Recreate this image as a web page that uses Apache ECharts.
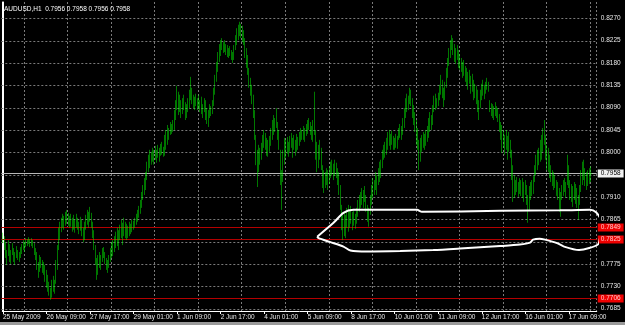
<!DOCTYPE html>
<html><head><meta charset="utf-8">
<script src="https://cdn.jsdelivr.net/npm/echarts@6/dist/echarts.min.js"></script>
<style>html,body{margin:0;padding:0;background:#000;}#c{width:625px;height:325px;}</style>
</head><body><div id="c"></div>
<script>
const symbolTitle = 'AUDUSD,H1  0.7956 0.7958 0.7956 0.7958';
const xTickLabels = ['25 May 2009','26 May 09:00','27 May 17:00','29 May 01:00','1 Jun 09:00','2 Jun 17:00','4 Jun 01:00','5 Jun 09:00','8 Jun 17:00','10 Jun 01:00','11 Jun 09:00','12 Jun 17:00','16 Jun 01:00','17 Jun 09:00'];
const yTickValues = [0.8270,0.8225,0.8180,0.8135,0.8090,0.8045,0.8000,0.7955,0.7910,0.7865,0.7820,0.7775,0.7730,0.7685];
const yTickShown = [0.8270,0.8225,0.8180,0.8135,0.8090,0.8045,0.8000,0.7910,0.7865,0.7775,0.7730,0.7685];
const redLevels = [0.7849, 0.7825, 0.7706];
const bidLevel = 0.7958;
const highs = [
.7838,.7831,.7819,.7803,.7823,.7815,.7803,.7817,.7807,.7799,.7811,
.7803,.7799,.7809,.7815,.7823,.7819,.7827,.7825,.7829,.7825,
.7827,.7823,.7817,.7807,.7799,.7779,.7793,.7789,.7783,.7779,
.7773,.7763,.7753,.7739,.7727,.7743,.7751,.7743,.7783,.7813,
.7848,.7860,.7868,.7876,.7872,.7880,.7884,.7878,.7872,.7876,
.7868,.7874,.7864,.7876,.7868,.7860,.7870,.7864,.7848,.7860,
.7874,.7884,.7880,.7890,.7878,.7860,.7843,.7813,.7787,.7793,
.7799,.7793,.7807,.7809,.7799,.7787,.7783,.7793,.7807,.7819,
.7823,.7831,.7840,.7848,.7843,.7854,.7864,.7858,.7868,.7860,
.7856,.7852,.7860,.7856,.7864,.7862,.7868,.7876,.7884,.7892,
.7904,.7920,.7934,.7948,.7960,.7981,.7995,.8005,.8001,.8009,
.8005,.8013,.8005,.8015,.8009,.8017,.8021,.8011,.8035,.8045,
.8055,.8049,.8061,.8057,.8065,.8085,.8105,.8134,.8122,.8116,
.8105,.8109,.8116,.8101,.8097,.8109,.8126,.8152,.8130,.8116,
.8112,.8118,.8109,.8116,.8105,.8112,.8097,.8109,.8105,.8089,
.8085,.8097,.8093,.8105,.8130,.8156,.8182,.8202,.8218,.8226,
.8230,.8222,.8226,.8218,.8216,.8210,.8214,.8206,.8202,.8216,
.8236,.8250,.8257,.8263,.8259,.8255,.8246,.8230,.8210,.8196,
.8170,.8150,.8136,.8116,.8085,.8035,.8005,.8015,.8009,.8019,
.8035,.8045,.8039,.8029,.8025,.8033,.8049,.8065,.8075,.8069,
.8089,.8061,.8045,.8005,.7964,.8005,.8029,.8025,.8031,.8021,
.8033,.8039,.8029,.8035,.8025,.8037,.8031,.8041,.8049,.8045,
.8053,.8049,.8057,.8065,.8069,.8061,.8053,.8065,.8122,.8045,
.8021,.8015,.8025,.8009,.7974,.7964,.7960,.7968,.7964,.7972,
.7981,.7985,.7977,.7985,.7979,.7968,.7960,.7934,.7894,.7874,
.7880,.7874,.7888,.7894,.7884,.7892,.7880,.7884,.7876,.7888,
.7904,.7914,.7920,.7928,.7924,.7932,.7914,.7894,.7888,.7914,
.7934,.7948,.7944,.7960,.7954,.7968,.7981,.7985,.8005,.8015,
.8021,.8029,.8041,.8045,.8037,.8043,.8033,.8029,.8037,.8033,
.8049,.8057,.8053,.8069,.8089,.8109,.8118,.8114,.8130,.8126,
.8109,.8095,.8081,.8065,.8049,.8025,.8029,.8035,.8041,.8037,
.8045,.8053,.8069,.8081,.8075,.8095,.8114,.8118,.8109,.8120,
.8136,.8156,.8146,.8130,.8142,.8170,.8190,.8210,.8226,.8236,
.8230,.8218,.8210,.8216,.8206,.8198,.8190,.8182,.8186,.8174,
.8170,.8162,.8166,.8154,.8158,.8146,.8138,.8134,.8126,.8105,
.8126,.8138,.8146,.8136,.8142,.8150,.8142,.8105,.8099,.8097,
.8093,.8101,.8093,.8089,.8077,.8061,.8055,.8045,.8035,.8045,
.8033,.8041,.8025,.8005,.7974,.7954,.7944,.7950,.7940,.7948,
.7944,.7948,.7940,.7944,.7934,.7914,.7932,.7940,.7944,.7952,
.7974,.7995,.8005,.8009,.8025,.8035,.8049,.8065,.8035,.8015,
.8009,.7995,.7974,.7964,.7960,.7954,.7944,.7940,.7928,.7920,
.7934,.7944,.7948,.7940,.7995,.7974,.7944,.7936,.7932,.7940,
.7936,.7928,.7914,.7934,.7964,.7981,.7985,.7968,.7960,.7964,
.7968,.7972,.7958];
const lows = [
.7817,.7803,.7787,.7773,.7791,.7779,.7775,.7793,.7779,.7773,.7787,
.7783,.7779,.7787,.7795,.7803,.7799,.7809,.7811,.7815,.7809,
.7811,.7807,.7793,.7783,.7763,.7747,.7759,.7767,.7757,.7753,
.7739,.7727,.7719,.7711,.7703,.7707,.7719,.7715,.7735,.7763,
.7803,.7823,.7839,.7848,.7844,.7852,.7856,.7852,.7848,.7850,
.7840,.7844,.7838,.7848,.7844,.7835,.7842,.7831,.7819,.7823,
.7844,.7854,.7848,.7860,.7848,.7827,.7803,.7773,.7743,.7753,
.7767,.7763,.7779,.7787,.7775,.7763,.7757,.7767,.7779,.7787,
.7791,.7799,.7807,.7811,.7803,.7823,.7827,.7813,.7831,.7827,
.7823,.7827,.7831,.7835,.7839,.7844,.7848,.7854,.7860,.7868,
.7876,.7888,.7904,.7914,.7924,.7944,.7960,.7968,.7975,.7981,
.7975,.7985,.7979,.7989,.7981,.7993,.7995,.7991,.7993,.8005,
.8015,.8025,.8035,.8037,.8041,.8045,.8065,.8085,.8075,.8081,
.8069,.8077,.8085,.8065,.8069,.8081,.8089,.8105,.8097,.8089,
.8085,.8093,.8085,.8089,.8081,.8077,.8069,.8081,.8065,.8057,
.8051,.8069,.8073,.8077,.8093,.8116,.8142,.8162,.8182,.8194,
.8206,.8200,.8202,.8196,.8192,.8190,.8194,.8186,.8180,.8186,
.8206,.8216,.8226,.8234,.8230,.8222,.8216,.8190,.8170,.8156,
.8130,.8114,.8097,.8069,.8025,.7974,.7930,.7960,.7975,.7985,
.8001,.8009,.8005,.7993,.7991,.8001,.8013,.8025,.8035,.8041,
.8049,.8025,.8005,.7934,.7884,.7940,.7975,.7989,.7997,.7991,
.8001,.8009,.7989,.8005,.7993,.8001,.8005,.8013,.8021,.8025,
.8025,.8021,.8033,.8037,.8045,.8035,.8025,.8021,.8035,.7985,
.7960,.7968,.7985,.7964,.7928,.7918,.7928,.7934,.7924,.7936,
.7948,.7954,.7944,.7952,.7948,.7934,.7914,.7884,.7843,.7823,
.7831,.7827,.7848,.7840,.7848,.7856,.7843,.7852,.7846,.7856,
.7870,.7880,.7888,.7894,.7888,.7900,.7880,.7860,.7850,.7874,
.7894,.7908,.7914,.7924,.7914,.7934,.7940,.7948,.7968,.7985,
.7989,.7995,.8005,.8013,.8005,.8015,.8005,.8005,.8009,.8007,
.8025,.8029,.8025,.8035,.8049,.8069,.8081,.8085,.8097,.8093,
.8069,.8055,.8041,.8015,.8005,.7964,.7981,.8001,.8009,.8005,
.8013,.8021,.8029,.8041,.8045,.8055,.8081,.8085,.8089,.8093,
.8105,.8116,.8109,.8091,.8105,.8130,.8150,.8174,.8190,.8206,
.8196,.8182,.8178,.8186,.8170,.8166,.8162,.8150,.8154,.8142,
.8134,.8126,.8138,.8118,.8122,.8105,.8109,.8097,.8081,.8065,
.8089,.8105,.8114,.8107,.8118,.8126,.8122,.8081,.8073,.8069,
.8065,.8073,.8069,.8061,.8041,.8025,.7999,.8009,.7995,.8005,
.7985,.8001,.7989,.7944,.7900,.7908,.7914,.7920,.7910,.7916,
.7912,.7908,.7900,.7914,.7894,.7858,.7884,.7904,.7912,.7916,
.7940,.7954,.7964,.7974,.7981,.7985,.8001,.8015,.7985,.7964,
.7960,.7948,.7940,.7932,.7924,.7928,.7912,.7904,.7880,.7870,
.7904,.7912,.7920,.7908,.7934,.7928,.7904,.7900,.7890,.7904,
.7896,.7888,.7864,.7894,.7920,.7934,.7944,.7932,.7924,.7932,
.7936,.7940,.7956];
// hand-drawn annotation outline: [bar index, price]
const ellipseIdx = [231,243,250.3,257.6,281,304.4,308,365.5,409.5,431.5,436,439.6,441,439,437.7,431,423.5,412.5,407.3,398.5,394.5,389.7,387.5,380,365.5,336,316.3,292,267.7,255.4,250.3,240.7,232,231];
const ellipsePrice = [0.7830,0.7858,0.7878,0.7884,0.7884,0.7884,0.7880,0.7882,0.7883,0.7884,0.7879,0.7864,0.7848,0.7829,0.7815,0.7807,0.7803,0.7810,0.7817,0.7824,0.7826,0.7824,0.7818,0.7814,0.7811,0.7806,0.7803,0.7801,0.7800,0.7802,0.7810,0.7819,0.7827,0.7830];

// hourly categories (weekends skipped)
const N_CAT = 437, LABEL_EVERY = 32;
const months = ['Jan','Feb','Mar','Apr','May','Jun','Jul','Aug','Sep','Oct','Nov','Dec'];
const cats = [];
let t = Date.UTC(2009, 4, 25, 1);
while (cats.length < N_CAT) {
  const d = new Date(t);
  const wd = d.getUTCDay();
  if (wd !== 0 && wd !== 6) {
    cats.push(d.getUTCDate() + ' ' + months[d.getUTCMonth()] + ' ' + String(d.getUTCHours()).padStart(2,'0') + ':00');
  }
  t += 3600000;
}

const BAR_PX = 43.6 / 32;
const gridLeft = 2 - BAR_PX / 2;
const gridWidth = N_CAT * BAR_PX;
const gridTop = 2, gridHeight = 309;
const Y_MIN = 0.76802, Y_MAX = 0.83028;
const FONT = 'Liberation Sans';
const GREEN = '#00f000';

const chart = echarts.init(document.getElementById('c'), null, {renderer: 'canvas'});
chart.setOption({
  backgroundColor: '#000',
  animation: false,
  grid: {left: gridLeft, top: gridTop, width: gridWidth, height: gridHeight},
  xAxis: [{
    type: 'category', data: cats, boundaryGap: true, gridIndex: 0,
    axisLine: {lineStyle: {color: '#fff', width: 1}},
    axisTick: {show: true, alignWithLabel: true, length: 3, interval: (i) => i % LABEL_EVERY === 0, lineStyle: {color: '#fff'}},
    axisLabel: {interval: (i) => i % LABEL_EVERY === 0, formatter: (v, i) => xTickLabels[Math.round(i / LABEL_EVERY)] || '',
      color: '#e8e8e8', fontSize: 6.5, fontFamily: FONT, align: 'left', margin: 3},
    splitLine: {show: true, interval: (i) => i % LABEL_EVERY === LABEL_EVERY / 2, lineStyle: {color: '#7a7a7a', type: [2, 2], width: 1}}
  }, {
    type: 'value', min: -0.5, max: N_CAT - 0.5, show: false, gridIndex: 0
  }],
  yAxis: [{
    type: 'value', position: 'right', min: Y_MIN, max: Y_MAX,
    axisLine: {show: true, lineStyle: {color: '#fff', width: 1}},
    axisTick: {show: false}, splitLine: {show: false}, axisLabel: {show: false}
  }, {
    type: 'value', position: 'left', min: Y_MIN, max: Y_MAX,
    axisLine: {show: true, lineStyle: {color: '#fff', width: 1}},
    axisTick: {show: false}, axisLabel: {show: false}, splitLine: {show: false}
  }],
  series: [{
    type: 'candlestick', xAxisIndex: 0, yAxisIndex: 0, z: 3,
    barWidth: 1.3,
    data: highs.map((h, i) => [lows[i], h, lows[i], h]),
    itemStyle: {color: GREEN, color0: GREEN, borderColor: GREEN, borderColor0: GREEN, borderWidth: 0.5}
  }, {
    type: 'line', xAxisIndex: 1, yAxisIndex: 0, z: 10, clip: false, silent: true,
    data: ellipseIdx.map((x, i) => [x, ellipsePrice[i]]),
    smooth: 0.25, symbol: 'none', lineStyle: {color: '#fff', width: 2}
  }]
});

// price levels, grid lines and price-scale labels positioned through the axis scale
const xL = gridLeft, xR = gridLeft + gridWidth;
const py = (v) => chart.convertToPixel({yAxisIndex: 0}, v);
const g = [];
const font = '6.5px "' + FONT + '"';
yTickValues.forEach(v => {
  const y = Math.round(py(v)) + 0.5;
  g.push({type: 'line', z: 1, silent: true, shape: {x1: xL, y1: y, x2: xR, y2: y}, style: {stroke: '#7a7a7a', lineWidth: 1, lineDash: [2, 2]}});
});
yTickShown.forEach(v => {
  g.push({type: 'text', z: 5, silent: true, x: xR + 4, y: py(v), style: {text: v.toFixed(4), fill: '#e8e8e8', font: font, verticalAlign: 'middle'}});
});
function level(v, lineColor, bg, fg) {
  const y = Math.round(py(v)) + 0.5;
  g.push({type: 'line', z: 2, silent: true, shape: {x1: xL, y1: y, x2: xR, y2: y}, style: {stroke: lineColor, lineWidth: 1}});
  g.push({type: 'text', z: 6, silent: true, x: xR + 1, y: y, style: {text: v.toFixed(4), fill: fg, font: font, verticalAlign: 'middle',
    backgroundColor: bg, padding: [1, 3, 0, 3]}});
}
redLevels.forEach(v => level(v, '#b40000', '#ee0000', '#ffc8c8'));
level(bidLevel, '#b8b8b8', '#f0f0f0', '#000');
g.push({type: 'text', left: 4, top: 6, z: 6, style: {text: symbolTitle, fill: '#fff', font: font}});
g.push({type: 'rect', z: 6, shape: {x: 0, y: 322, width: 625, height: 3}, style: {fill: '#9a9a9a'}});
chart.setOption({graphic: g});
</script></body></html>
